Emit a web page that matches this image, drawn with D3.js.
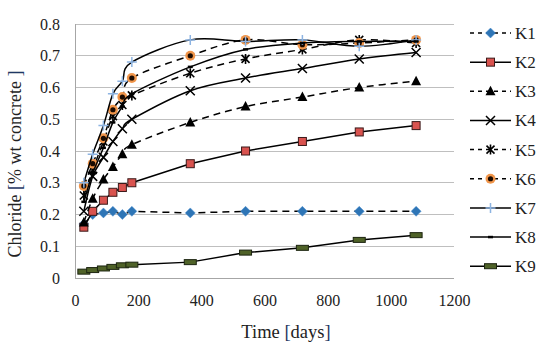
<!DOCTYPE html>
<html><head><meta charset="utf-8">
<script src="https://cdn.jsdelivr.net/npm/d3@7"></script>
<style>html,body{margin:0;padding:0;background:#fff;}svg{display:block;}</style>
</head><body>
<svg id="chart" width="550" height="348"></svg>
<script>
const days = [28, 56, 90, 120, 150, 180, 365, 540, 720, 900, 1080];
const seriesNames = ["K1","K2","K3","K4","K5","K6","K7","K8","K9"];
const K1 = [0.17, 0.20, 0.205, 0.21, 0.20, 0.21, 0.205, 0.21, 0.21, 0.21, 0.21];
const K2 = [0.16, 0.21, 0.245, 0.27, 0.285, 0.30, 0.36, 0.40, 0.43, 0.46, 0.48];
const K3 = [0.175, 0.25, 0.31, 0.35, 0.39, 0.42, 0.49, 0.54, 0.57, 0.60, 0.62];
const K4 = [0.21, 0.32, 0.38, 0.43, 0.47, 0.50, 0.59, 0.63, 0.66, 0.69, 0.71];
const K5 = [0.26, 0.34, 0.43, 0.51, 0.545, 0.575, 0.645, 0.69, 0.72, 0.75, 0.74];
const K6 = [0.29, 0.36, 0.44, 0.53, 0.57, 0.63, 0.70, 0.75, 0.735, 0.74, 0.75];
const K7 = [0.30, 0.39, 0.48, 0.58, 0.62, 0.68, 0.75, 0.745, 0.75, 0.73, 0.75];
const K8 = [0.24, 0.33, 0.41, 0.49, 0.54, 0.58, 0.665, 0.72, 0.74, 0.745, 0.745];
const K9 = [0.02, 0.025, 0.03, 0.035, 0.04, 0.042, 0.05, 0.08, 0.095, 0.12, 0.135];
const xTicks = [0, 200, 400, 600, 800, 1000, 1200];
const yTicks = [0, 0.1, 0.2, 0.3, 0.4, 0.5, 0.6, 0.7, 0.8];

const values = [K1,K2,K3,K4,K5,K6,K7,K8,K9];
const styles = [
  {dash:true,  smooth:false, marker:"diamond"},
  {dash:false, smooth:false, marker:"square"},
  {dash:true,  smooth:true,  marker:"triangle"},
  {dash:false, smooth:true,  marker:"x"},
  {dash:true,  smooth:true,  marker:"star"},
  {dash:true,  smooth:true,  marker:"circle"},
  {dash:false, smooth:true,  marker:"plus"},
  {dash:false, smooth:true,  marker:"dash"},
  {dash:false, smooth:false, marker:"rect"}
];

const svg = d3.select("#chart");
const x = d3.scaleLinear().domain([0,1200]).range([75,454]);
const y = d3.scaleLinear().domain([0,0.8]).range([278,24]);
const serif = "'Liberation Serif','Times New Roman',serif";

// gridlines
svg.append("g").selectAll("line").data(yTicks.filter(d=>d>0)).join("line")
  .attr("x1",x(0)).attr("x2",x(1200)).attr("y1",d=>y(d)).attr("y2",d=>y(d))
  .attr("stroke","#bfbfbf").attr("stroke-width",1).attr("shape-rendering","crispEdges");

// axes
const xAxis = svg.append("g").attr("transform",`translate(0,${y(0)})`)
  .call(d3.axisBottom(x).tickValues(xTicks).tickSize(0).tickPadding(14).tickFormat(d3.format("d")));
const yAxis = svg.append("g").attr("transform",`translate(${x(0)},0)`)
  .call(d3.axisLeft(y).tickValues(yTicks).tickSize(0).tickPadding(15).tickFormat(d=>d===0?"0":d3.format(".1f")(d)));
[xAxis,yAxis].forEach(a=>{
  a.select(".domain").attr("stroke","#a6a6a6").attr("shape-rendering","crispEdges");
  a.selectAll("text").attr("font-family",serif).attr("font-size","16px").attr("fill","#222");
});
xAxis.selectAll("text").attr("dy","0.9em");
xAxis.select(".domain").attr("d",`M${x(0)},0.5H${x(1200)}`);
yAxis.select(".domain").attr("d",`M0.5,${y(0)}V${y(0.8)}`);

// axis titles
const xt = svg.append("text").attr("x",286).attr("y",338).attr("text-anchor","middle")
  .attr("font-family",serif).attr("font-size","18.5px").attr("fill","#222");
xt.append("tspan").text("Time ");
xt.append("tspan").attr("fill","#1f3864").text("[");
xt.append("tspan").text("days");
xt.append("tspan").attr("fill","#1f3864").text("]");

const yt = svg.append("text").attr("transform","translate(21,164) rotate(-90)").attr("text-anchor","middle")
  .attr("font-family",serif).attr("font-size","18px").attr("fill","#222");
yt.append("tspan").text("Chloride ");
yt.append("tspan").attr("fill","#1f3864").text("[");
yt.append("tspan").text("% wt concrete ");
yt.append("tspan").attr("fill","#1f3864").text("]");

function drawMarker(g, type, cx, cy) {
  switch(type) {
    case "diamond":
      g.append("path").attr("d",`M${cx},${cy-5}L${cx+5},${cy}L${cx},${cy+5}L${cx-5},${cy}Z`)
        .attr("fill","#2e75b6").attr("stroke","#4a8fd0").attr("stroke-width",0.5); break;
    case "square":
      g.append("rect").attr("x",cx-4).attr("y",cy-4).attr("width",8).attr("height",8)
        .attr("fill","#d9534f").attr("stroke","#3b1a1a").attr("stroke-width",1); break;
    case "triangle":
      g.append("path").attr("d",`M${cx},${cy-5.5}L${cx+5},${cy+4}L${cx-5},${cy+4}Z`).attr("fill","#000"); break;
    case "x":
      g.append("path").attr("d",`M${cx-4.5},${cy-4.5}L${cx+4.5},${cy+4.5}M${cx-4.5},${cy+4.5}L${cx+4.5},${cy-4.5}`)
        .attr("stroke","#000").attr("stroke-width",1.5); break;
    case "star":
      g.append("path").attr("d",`M${cx-4},${cy-4}L${cx+4},${cy+4}M${cx-4},${cy+4}L${cx+4},${cy-4}M${cx},${cy-5}L${cx},${cy+5}`)
        .attr("stroke","#000").attr("stroke-width",1.6); break;
    case "circle":
      g.append("circle").attr("cx",cx).attr("cy",cy).attr("r",5).attr("fill","#f0954a");
      g.append("circle").attr("cx",cx).attr("cy",cy).attr("r",2.6).attr("fill","#1a0a00"); break;
    case "plus":
      g.append("path").attr("d",`M${cx-5},${cy}L${cx+5},${cy}M${cx},${cy-5}L${cx},${cy+5}`)
        .attr("stroke","#8db4e2").attr("stroke-width",1.5); break;
    case "dash":
      g.append("path").attr("d",`M${cx-2.5},${cy}L${cx+2.5},${cy}`).attr("stroke","#000").attr("stroke-width",2.5); break;
    case "rect":
      g.append("rect").attr("x",cx-6).attr("y",cy-2.5).attr("width",12).attr("height",5)
        .attr("fill","#4f6228").attr("stroke","#1c2410").attr("stroke-width",1); break;
  }
}

// series
values.forEach((vals,i)=>{
  const st = styles[i];
  const pts = days.map((d,j)=>[d, vals[j]]);
  const line = d3.line().x(d=>x(d[0])).y(d=>y(d[1]))
    .curve(st.smooth ? d3.curveCardinal.tension(0) : d3.curveLinear);
  const g = svg.append("g");
  g.append("path").attr("d",line(pts)).attr("fill","none").attr("stroke","#000")
    .attr("stroke-width",1.5).attr("stroke-dasharray",st.dash?"7,5":null);
  pts.forEach(p=>drawMarker(g, st.marker, x(p[0]), y(p[1])));
});

// legend
const lg = svg.append("g");
seriesNames.forEach((name,i)=>{
  const st = styles[i];
  const ly = 33 + i*29.15;
  const g = lg.append("g");
  g.append("line").attr("x1",470).attr("x2",511).attr("y1",ly).attr("y2",ly)
    .attr("stroke","#000").attr("stroke-width",1.5).attr("stroke-dasharray",st.dash?"4,4":null);
  drawMarker(g, st.marker, 490.5, ly);
  g.append("text").attr("x",515).attr("y",ly+6).attr("font-family",serif).attr("font-size","17px")
    .attr("fill","#222").text(name);
});
</script>
</body></html>
